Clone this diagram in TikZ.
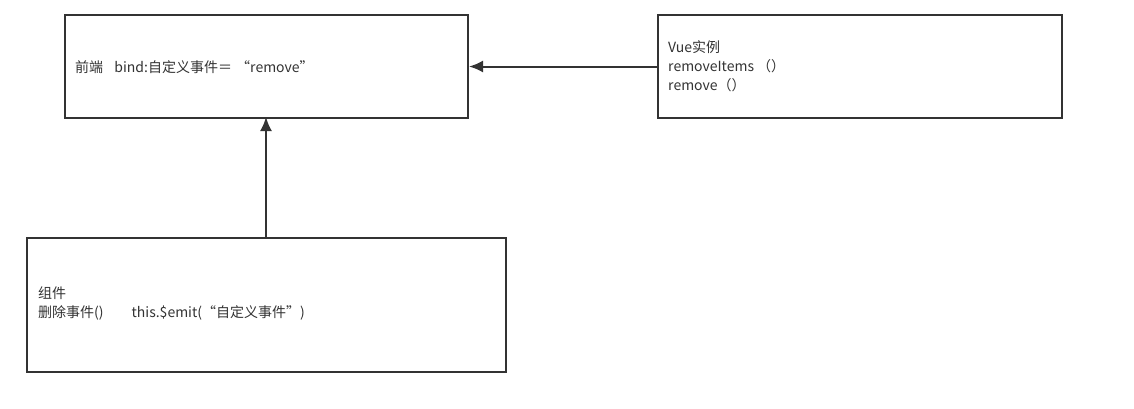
\documentclass[tikz,border=0pt]{standalone}
\usepackage{fontspec}
\setmainfont{Noto Sans CJK SC}
\usetikzlibrary{arrows.meta}
\definecolor{ink}{HTML}{333333}
\begin{document}
\begin{tikzpicture}[x=1pt,y=-1pt,
  boxstyle/.style={draw=ink,line width=2pt,fill=white},
  txt/.style={anchor=west,inner sep=0pt,text=ink,font=\fontsize{14}{19}\selectfont,align=left},
  conn/.style={draw=ink,line width=2pt,-{Latex[length=14pt,width=12pt]}}]
\useasboundingbox (0,0) rectangle (1134,408);
\node[boxstyle,minimum width=403pt,minimum height=103pt,anchor=north west,inner sep=0pt] (front) at (64,14) {};
\node[boxstyle,minimum width=404pt,minimum height=103pt,anchor=north west,inner sep=0pt] (vue) at (657,14) {};
\node[boxstyle,minimum width=479pt,minimum height=134pt,anchor=north west,inner sep=0pt] (comp) at (26,237) {};
\node[txt] (t1) at (75,67) {前端\hspace{0.8em}bind:自定义事件＝\hspace{0.3em}“remove”};
\node[txt] (t2) at (668,66) {Vue实例\\removeItems （）\\remove（）};
\node[txt] (t3) at (38,303) {组件\\删除事件()\hspace{2em}this.\$emit(“自定义事件”)};
\coordinate (c3) at (266,237);
\coordinate (c1) at (266,117);
\draw[conn] (vue.west) -- (front.east);
\draw[conn] (c3) -- (c1);
\end{tikzpicture}
\end{document}
